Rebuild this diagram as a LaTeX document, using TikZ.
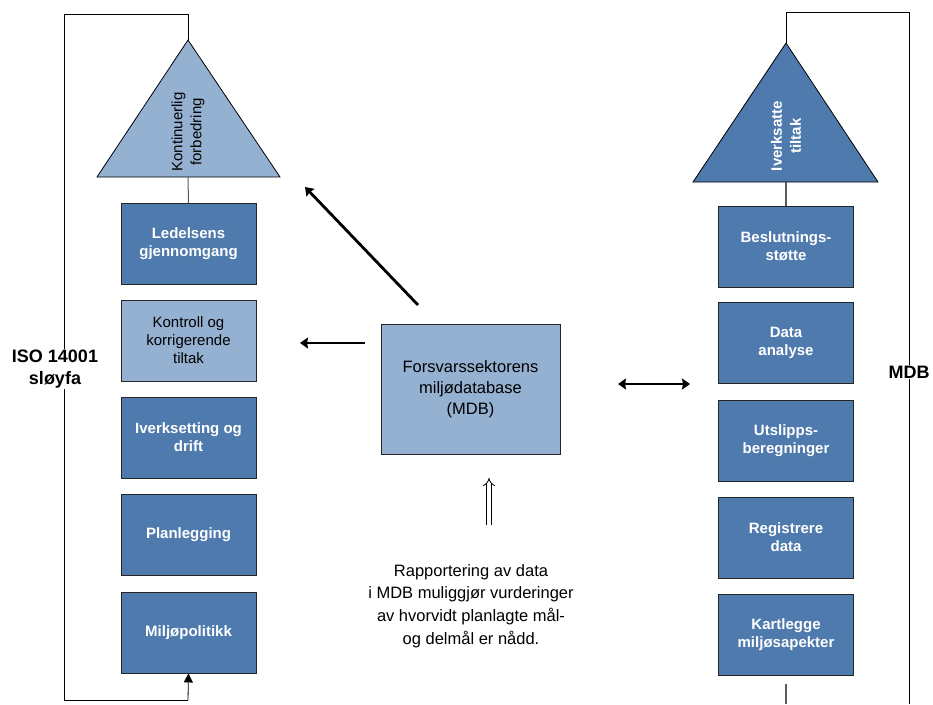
\documentclass[tikz,border=0pt]{standalone}
\usepackage{fontspec}
\setmainfont{Liberation Sans}
\usepackage{tikz}
\usetikzlibrary{arrows.meta,positioning,calc}
\definecolor{mdbdark}{HTML}{4F7AAD}
\definecolor{mdblight}{HTML}{95B1D1}
\definecolor{mdbline}{HTML}{5A5A5A}
\begin{document}
\begin{tikzpicture}[x=1pt,y=-1pt,
	darkbox/.style={draw=black!85,line width=0.9pt,fill=mdbdark,text=white,minimum width=135pt,minimum height=81pt,align=center,font=\fontsize{15}{18}\selectfont\bfseries,inner sep=0pt},
	lightbox/.style={darkbox,fill=mdblight,text=black,font=\fontsize{15}{18}\selectfont},
	loopline/.style={draw=black,line width=0.8pt},
	fat/.style={line width=2.8pt,-{Stealth[length=8pt,width=11pt,inset=1pt]}}]
	\useasboundingbox (0,0) rectangle (933,704);
	% left column: ISO 14001 loop
	\coordinate (tl_top) at (188,40);
	\coordinate (tl_base) at (188,177);
	\draw[loopline,fill=mdblight] (tl_top) -- (97,177) -- (280,177) -- cycle;
	\node[rotate=90,align=center,font=\fontsize{15}{19}\selectfont] (forb) at (188,132) {Kontinuerlig\\forbedring};
	\node[darkbox] (ledel) at (188.5,244) {Ledelsens\\gjennomgang};
	\node[lightbox] (kontr) at (188.5,340.5) {Kontroll og\\korrigerende\\tiltak};
	\node[darkbox] (iverk) at (188.5,437.5) {Iverksetting og\\drift};
	\node[darkbox] (plan) at (188.5,535) {Planlegging};
	\node[darkbox] (polit) at (188.5,632.5) {Miljøpolitikk};
	% right column: MDB
	\coordinate (tr_top) at (786,43);
	\coordinate (tr_base) at (786,182);
	\draw[loopline,fill=mdbdark] (tr_top) -- (693,182) -- (878,182) -- cycle;
	\node[rotate=90,align=center,text=white,font=\fontsize{15}{19}\selectfont\bfseries] (iverksatte) at (786,136) {Iverksatte\\tiltak};
	\node[darkbox] (beslut) at (786,246.5) {Beslutnings-\\støtte};
	\node[darkbox] (analyse) at (786,343) {Data\\analyse};
	\node[darkbox] (utslipp) at (786,440.5) {Utslipps-\\beregninger};
	\node[darkbox] (regist) at (786,537.5) {Registrere\\data};
	\node[darkbox] (kartl) at (786,634.5) {Kartlegge\\miljøsapekter};
	% centre
	\node[lightbox,minimum width=179pt,minimum height=130pt,font=\fontsize{16.5}{21}\selectfont] (mdb) at (470.5,389) {Forsvarssektorens\\miljødatabase\\(MDB)};
	\node[align=center,font=\fontsize{16.5}{22.7}\selectfont] (rapp) at (471,606) {Rapportering av data\\i MDB muliggjør vurderinger\\av hvorvidt planlagte mål-\\og delmål er nådd.};
	\coordinate (rapp_tip) at (489,478);
	\coordinate (rapp_end) at (489,525);
	\coordinate (diag_s) at (418,305);
	\coordinate (diag_e) at (305,187);
	\coordinate (left_e) at (300,343);
	\coordinate (dbl_s) at (618,384);
	\coordinate (dbl_e) at (690,384);
	% loop lines
	\draw[loopline] (tl_top) -- (188,14) -- (64,14) -- (64,700) -- (188,700);
	\draw[loopline,-{Triangle[length=9pt,width=9pt]}] (188,700) -- (polit.south);
	\draw[loopline] (tr_top) -- (786,12) -- (909,12) -- (909,704);
	\draw[mdbline,line width=1pt] (tl_base) -- (ledel.north);
	\draw[mdbline,line width=1.2pt] (tr_base) -- (beslut.north);
	\draw[mdbline,line width=1.2pt] (786,684) -- (786,704);
	\node[fill=white,align=center,inner sep=1pt,font=\fontsize{18}{22}\selectfont\bfseries] (iso) at (55,369) {ISO 14001\\sløyfa};
	\node[fill=white,inner sep=1pt,font=\fontsize{18}{22}\selectfont\bfseries] (mdbtag) at (909,372) {MDB};
	% arrows
	\draw[fat] (diag_s) -- (diag_e);
	\draw[fat] (mdb.west |- left_e) ++(-16,0) -- (left_e);
	\draw[line width=2.8pt,{Stealth[length=8pt,width=11pt,inset=1pt]}-{Stealth[length=8pt,width=11pt,inset=1pt]}] (dbl_s) -- (dbl_e);
	\draw[double,double distance=3.5pt,line width=0.8pt,-{Implies}] (rapp_end) -- (rapp_tip);
\end{tikzpicture}
\end{document}
